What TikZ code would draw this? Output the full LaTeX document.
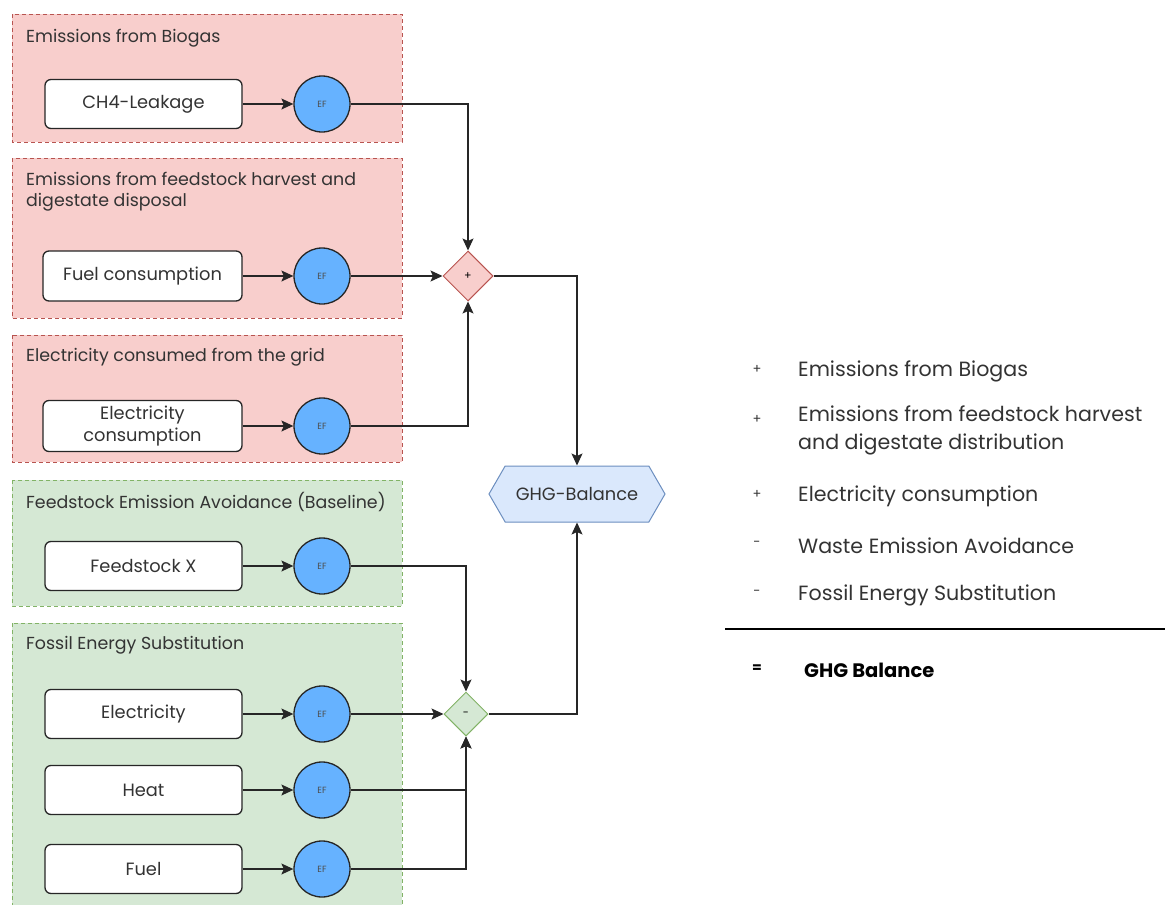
\documentclass[tikz,border=0pt]{standalone}
\usepackage{fontspec}
\setmainfont{Poppins}
\usetikzlibrary{shapes.geometric,shapes.symbols,arrows.meta}
\definecolor{redfill}{HTML}{F8CECC}
\definecolor{redline}{HTML}{B85450}
\definecolor{greenfill}{HTML}{D5E8D4}
\definecolor{greenline}{HTML}{82B366}
\definecolor{efblue}{HTML}{66B2FF}
\definecolor{hexfill}{HTML}{DAE8FC}
\definecolor{hexline}{HTML}{6C8EBF}
\definecolor{txt}{HTML}{333333}
\tikzset{
  grp/.style={dashed, dash pattern=on 4pt off 3pt, line width=1pt},
  redgrp/.style={grp, draw=redline, fill=redfill},
  greengrp/.style={grp, draw=greenline, fill=greenfill},
  grptitle/.style={anchor=north west, inner sep=0pt, font=\fontsize{17.4}{21.5}\selectfont, text=txt, align=left},
  inbox/.style={draw=black!85, fill=white, rounded corners=6pt, line width=1.3pt, minimum width=197pt, minimum height=49pt, font=\fontsize{17.8}{22}\selectfont, text=txt, align=center, inner sep=0pt},
  ef/.style={circle, draw=black!85, fill=efblue, line width=1.3pt, minimum size=56pt, inner sep=0pt, font=\fontsize{9}{9}\selectfont, text=black!70},
  plusd/.style={diamond, draw=redline, fill=redfill, line width=1pt, minimum width=50pt, minimum height=50pt, inner sep=0pt, font=\fontsize{11}{11}\selectfont},
  minusd/.style={diamond, draw=greenline, fill=greenfill, line width=1pt, minimum width=44pt, minimum height=44pt, inner sep=0pt, font=\fontsize{11}{11}\selectfont},
  hexa/.style={signal, signal to=west and east, signal pointer angle=120, draw=hexline, fill=hexfill, line width=1pt, minimum width=176pt, minimum height=56pt, inner sep=0pt, font=\fontsize{17.8}{22}\selectfont, text=txt},
  conn/.style={line width=1.2pt, draw=black!85, -{Stealth[length=12pt,width=11pt,inset=2.5pt]}},
  line/.style={line width=1.2pt, draw=black!85},
  legtxt/.style={anchor=west, inner sep=0pt, font=\fontsize{20.6}{28}\selectfont, text=txt, align=left},
  legsym/.style={anchor=center, inner sep=0pt, font=\fontsize{13}{13}\selectfont, text=txt},
}
\begin{document}
\begin{tikzpicture}[x=1pt,y=-1pt]
\useasboundingbox (0,0) rectangle (1165,905);
\begin{scope}
\clip (0,0) rectangle (1165,905);
% group backgrounds
\path[redgrp] (12,14) rectangle (402,142);
\path[redgrp] (12,158) rectangle (402,318);
\path[redgrp] (12,335) rectangle (402,462);
\path[greengrp] (12,480) rectangle (402,606);
\path[greengrp] (12,623) rectangle (402,915);
\end{scope}
% group titles
\node[grptitle] (t1) at (26,29) {Emissions from Biogas};
\node[grptitle] (t2) at (26,172) {Emissions from feedstock harvest and\\digestate disposal};
\node[grptitle] (t3) at (26,348) {Electricity consumed from the grid};
\node[grptitle] (t4) at (26,492) {Feedstock Emission Avoidance (Baseline)};
\node[grptitle] (t5) at (26,636) {Fossil Energy Substitution};
% input boxes
\node[inbox] (b1) at (143.5,104) {CH4-Leakage};
\node[inbox, minimum width=199pt, minimum height=50pt] (b2) at (142.5,276) {Fuel consumption};
\node[inbox, minimum width=199pt, minimum height=51pt] (b3) at (142.5,426) {Electricity\\consumption};
\node[inbox] (b4) at (143.5,566) {Feedstock X};
\node[inbox] (b5) at (143.5,714) {Electricity};
\node[inbox] (b6) at (143.5,790) {Heat};
\node[inbox] (b7) at (143.5,869) {Fuel};
% EF circles
\node[ef] (e1) at (322,104) {EF};
\node[ef] (e2) at (322,276) {EF};
\node[ef] (e3) at (322,426) {EF};
\node[ef] (e4) at (322,566) {EF};
\node[ef] (e5) at (322,714) {EF};
\node[ef] (e6) at (322,790) {EF};
\node[ef] (e7) at (322,869) {EF};
% combiners
\node[plusd] (plus) at (468,276) {+};
\node[minusd] (minus) at (466,714) {-};
\node[hexa] (ghg) at (577,494) {GHG-Balance};
% connectors
\foreach \i in {1,...,7} \draw[conn] (b\i) -- (e\i);
\draw[conn] (e1) -| (plus.north);
\draw[conn] (e2) -- (plus);
\draw[conn] (e3) -| (plus.south);
\draw[conn] (plus.east) -| (ghg.north);
\draw[conn] (e4) -| (minus.north);
\draw[conn] (e5) -- (minus);
\draw[conn] (e6) -| (minus.south);
\draw[conn] (e7) -| (minus.south);
\draw[conn] (minus.east) -| (ghg.south);
% legend
\node[legsym] (s1) at (757,369) {+};
\node[legtxt] (l1) at (798,371) {Emissions from Biogas};
\node[legsym] (s2) at (757,419) {+};
\node[legtxt, anchor=north west] (l2) at (798,406) {Emissions from feedstock harvest\\and digestate distribution};
\node[legsym] (s3) at (757,494) {+};
\node[legtxt] (l3) at (798,496) {Electricity consumption};
\node[legsym] (s4) at (757,544) {-};
\node[legtxt] (l4) at (798,546) {Waste Emission Avoidance};
\node[legsym] (s5) at (757,593) {-};
\node[legtxt] (l5) at (798,595) {Fossil Energy Substitution};
\coordinate (ra) at (725,629);
\coordinate (rb) at (1165,629);
\draw[line, black] (ra) -- (rb);
\node[legsym, font=\fontsize{14}{14}\selectfont\bfseries, text=black] (s6) at (757,669) {=};
\node[legtxt, font=\fontsize{19.5}{27}\selectfont\bfseries, text=black] (l6) at (804,670) {GHG Balance};
\end{tikzpicture}
\end{document}
